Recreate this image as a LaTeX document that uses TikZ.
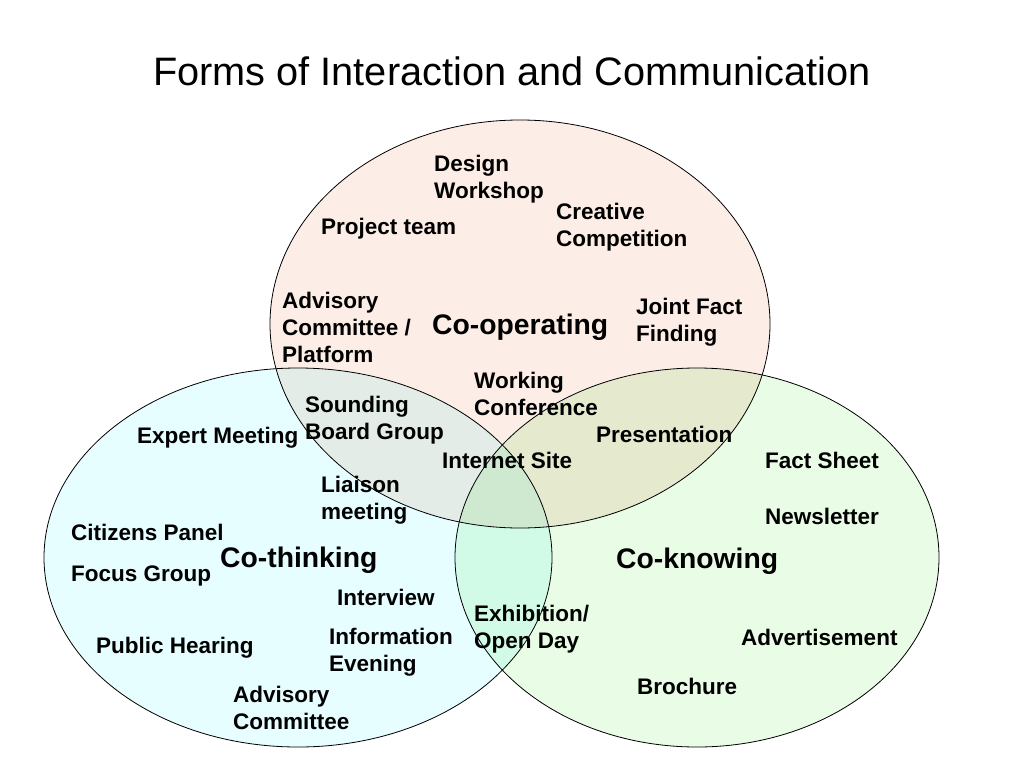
\documentclass[tikz,border=0pt]{standalone}
\usepackage{fontspec}
\setmainfont{Liberation Sans}
\definecolor{topfill}{RGB}{252,237,230}
\definecolor{leftfill}{RGB}{230,254,255}
\definecolor{rightfill}{RGB}{232,252,230}
\begin{document}
\begin{tikzpicture}[x=1pt,y=-1pt,
  lbl/.style={anchor=north west, inner sep=0pt, align=left, font=\fontsize{22.5}{27}\selectfont\bfseries},
  big/.style={anchor=north west, inner sep=0pt, font=\fontsize{28.3}{34}\selectfont\bfseries},
  ring/.style={draw=black, line width=0.8pt}]
\useasboundingbox (0,0) rectangle (1024,768);
\fill[white] (0,0) rectangle (1024,768);
% title
\node[anchor=north west, inner sep=0pt, font=\fontsize{39.7}{46}\selectfont] (title) at (153,57) {Forms of Interaction and Communication};
% ellipses
\begin{scope}[blend mode=multiply]
\fill[topfill] (520,324) ellipse [x radius=250, y radius=204];
\fill[leftfill] (298,557.5) ellipse [x radius=254, y radius=189.5];
\fill[rightfill] (697,557.5) ellipse [x radius=242, y radius=189.5];
\end{scope}
\draw[ring] (520,324) ellipse [x radius=250, y radius=204];
\draw[ring] (298,557.5) ellipse [x radius=254, y radius=189.5];
\draw[ring] (697,557.5) ellipse [x radius=242, y radius=189.5];
% Co-operating
\node[lbl] (design) at (434,155) {Design\\Workshop};
\node[lbl] (creative) at (556,203) {Creative\\Competition};
\node[lbl] (project) at (321,218) {Project team};
\node[lbl] (advplat) at (282,292) {Advisory\\Committee /\\Platform};
\node[big] (coop) at (432,314) {Co-operating};
\node[lbl] (joint) at (636,298) {Joint Fact\\Finding};
\node[lbl] (working) at (474,372) {Working\\Conference};
\node[lbl] (sounding) at (305,396) {Sounding\\Board Group};
\node[lbl] (present) at (596,426) {Presentation};
\node[lbl] (internet) at (442,452) {Internet Site};
\node[lbl] (liaison) at (321,476) {Liaison\\meeting};
% Co-thinking
\node[lbl] (expert) at (137,427) {Expert Meeting};
\node[lbl] (citizens) at (71,524) {Citizens Panel};
\node[big] (cothink) at (220,547) {Co-thinking};
\node[lbl] (focus) at (71,566) {Focus Group};
\node[lbl] (interview) at (337,589) {Interview};
\node[lbl] (infoeve) at (329,628) {Information\\Evening};
\node[lbl] (public) at (96,637) {Public Hearing};
\node[lbl] (advcom) at (233,686) {Advisory\\Committee};
% Co-knowing
\node[lbl] (exhib) at (474,605) {Exhibition/\\Open Day};
\node[lbl] (fact) at (765,452) {Fact Sheet};
\node[lbl] (news) at (765,508) {Newsletter};
\node[big] (coknow) at (616,548) {Co-knowing};
\node[lbl] (advert) at (741,629) {Advertisement};
\node[lbl] (brochure) at (637,678) {Brochure};
\end{tikzpicture}
\end{document}
